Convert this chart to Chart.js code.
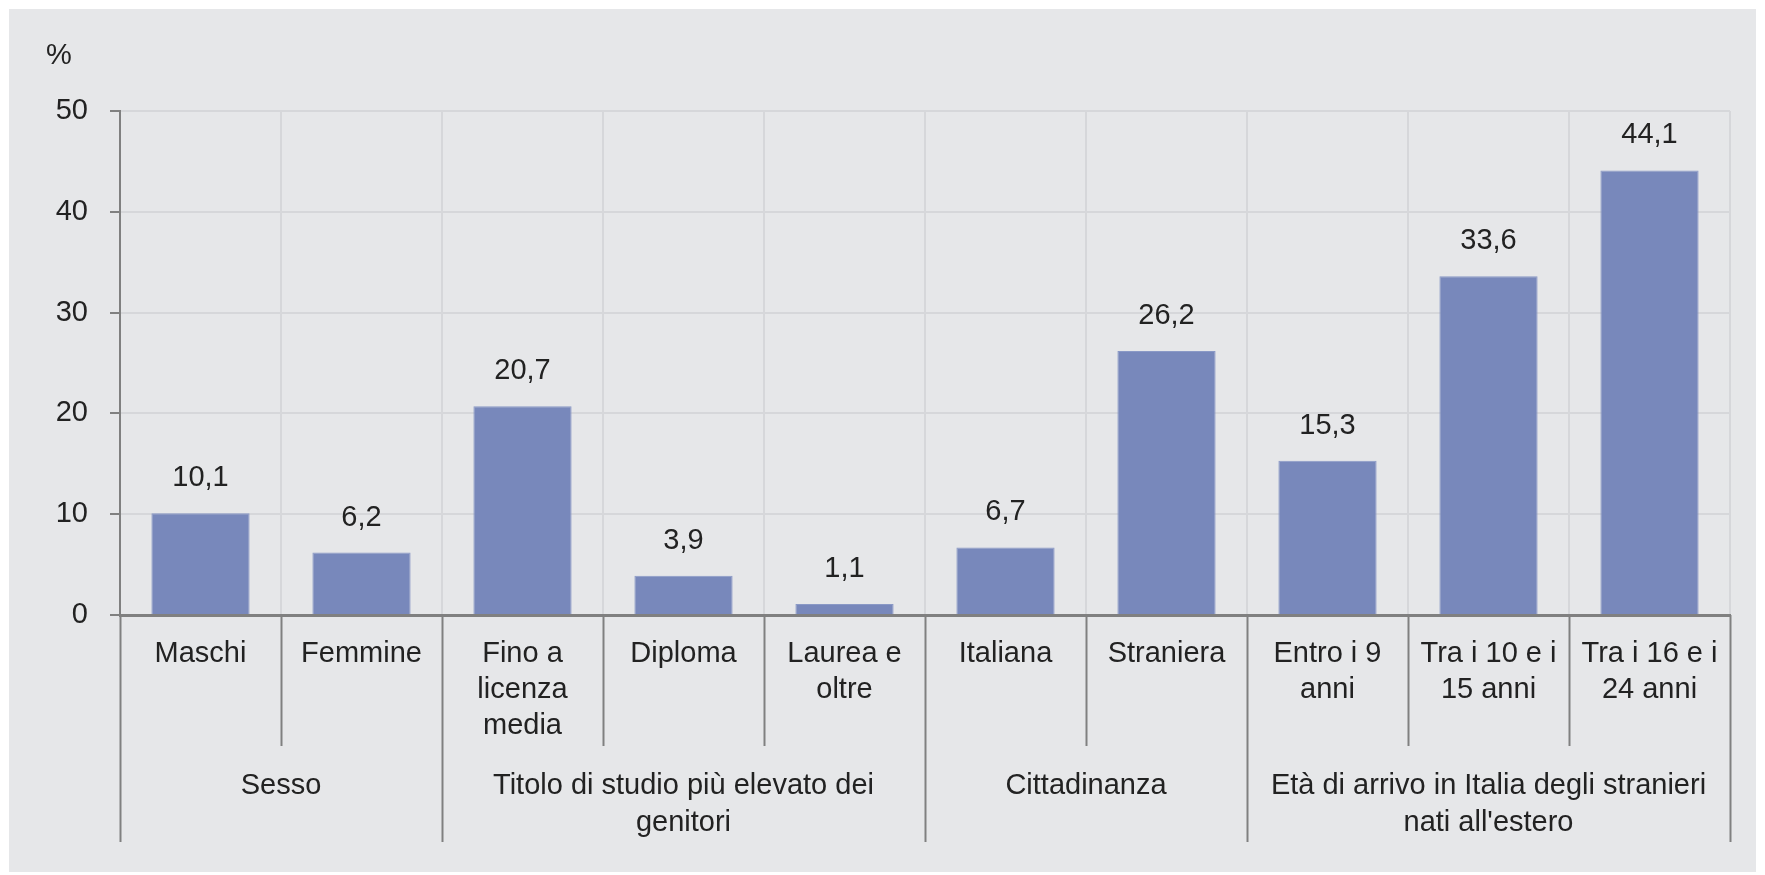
<!DOCTYPE html>
<html>
<head>
<meta charset="utf-8">
<script src="https://cdn.jsdelivr.net/npm/chart.js@4/dist/chart.umd.min.js"></script>
<style>
  body{margin:0;background:#fff;}
  canvas{display:block;}
</style>
</head>
<body>
<canvas id="myChart" width="1765" height="875"></canvas>
<script>
const categories = [
  ['Maschi'], ['Femmine'], ['Fino a','licenza','media'], ['Diploma'], ['Laurea e','oltre'],
  ['Italiana'], ['Straniera'], ['Entro i 9','anni'], ['Tra i 10 e i','15 anni'], ['Tra i 16 e i','24 anni']
];
const values = [10.1, 6.2, 20.7, 3.9, 1.1, 6.7, 26.2, 15.3, 33.6, 44.1];
const groupNames = [
  ['Sesso'],
  ['Titolo di studio più elevato dei','genitori'],
  ['Cittadinanza'],
  ["Età di arrivo in Italia degli stranieri","nati all'estero"]
];
const groupSizes = [2, 3, 2, 3];
const yTicks = [0, 10, 20, 30, 40, 50];

const FONT = '"Liberation Sans", Arial, sans-serif';
const SIZE = 29;
const TXT = '#222222';
const AXIS = '#808080';
const GRID = '#d6d7da';

const panel = {
  id: 'panel',
  beforeDraw(chart){
    const c = chart.ctx;
    c.save();
    c.fillStyle = '#e6e7e9';
    c.fillRect(9, 9, 1747, 863);
    c.fillStyle = TXT;
    c.font = SIZE + 'px ' + FONT;
    c.textAlign = 'left';
    c.textBaseline = 'middle';
    c.fillText('%', 46, 56);
    c.restore();
  }
};

const extras = {
  id: 'extras',
  afterDraw(chart){
    const c = chart.ctx;
    const x = chart.scales.x;
    const y = chart.scales.y;
    const half = (x.getPixelForValue(1) - x.getPixelForValue(0)) / 2;
    const edge = i => x.getPixelForValue(i) - half;
    const base = y.getPixelForValue(0);
    c.save();
    // value labels
    c.fillStyle = TXT;
    c.font = SIZE + 'px ' + FONT;
    c.textAlign = 'center';
    c.textBaseline = 'middle';
    values.forEach((v, i) => {
      c.fillText(v.toFixed(1).replace('.', ','), x.getPixelForValue(i), y.getPixelForValue(v) - 35);
    });
    // separator lines below axis
    const groupEdges = [0];
    groupSizes.forEach(s => groupEdges.push(groupEdges[groupEdges.length - 1] + s));
    c.strokeStyle = AXIS;
    c.lineWidth = 2;
    for (let i = 0; i <= values.length; i++) {
      const px = Math.round(edge(i)) + 0.5;
      c.beginPath();
      c.moveTo(px, base);
      c.lineTo(px, groupEdges.includes(i) ? 842 : 746);
      c.stroke();
    }
    // group labels
    groupNames.forEach((lines, g) => {
      const cx = (edge(groupEdges[g]) + edge(groupEdges[g + 1])) / 2;
      lines.forEach((t, k) => c.fillText(t, cx, 786 + k * 37));
    });
    c.restore();
  }
};

const ctx = document.getElementById('myChart').getContext('2d');
const myChart = new Chart(ctx, {
  type: 'bar',
  data: {
    labels: categories,
    datasets: [{
      data: values,
      backgroundColor: '#7888bb',
      borderColor: '#8a99c6',
      borderWidth: 1,
      categoryPercentage: 1,
      barPercentage: 0.61
    }]
  },
  options: {
    responsive: false,
    animation: false,
    layout: { padding: { top: 111, right: 35, left: 0, bottom: 0 } },
    plugins: { legend: { display: false }, tooltip: { enabled: false } },
    scales: {
      x: {
        afterFit: s => { s.height = 260; },
        grid: { color: GRID, lineWidth: 2, drawTicks: false, offset: true },
        border: { color: AXIS, width: 3 },
        ticks: {
          autoSkip: false, maxRotation: 0, minRotation: 0, padding: 21,
          color: TXT, font: { family: FONT, size: SIZE, lineHeight: 1.24 }
        }
      },
      y: {
        min: 0, max: 50,
        afterFit: s => { s.width = 120; },
        afterBuildTicks: s => { s.ticks = yTicks.map(v => ({ value: v })); },
        grid: { color: GRID, lineWidth: 2, tickColor: AXIS, tickLength: 10 },
        border: { color: AXIS, width: 2 },
        ticks: { padding: 22, color: TXT, font: { family: FONT, size: SIZE } }
      }
    }
  },
  plugins: [panel, extras]
});
</script>
</body>
</html>
